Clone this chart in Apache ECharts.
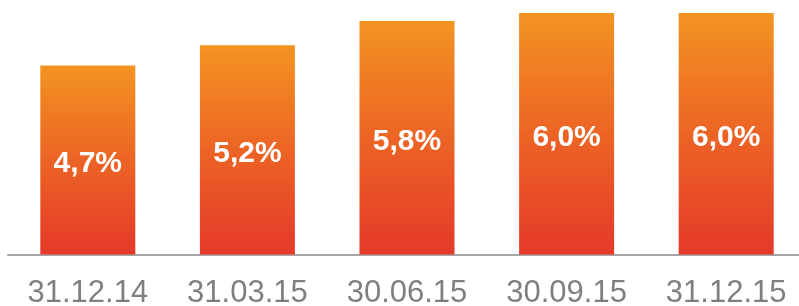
<!DOCTYPE html>
<html>
<head>
<meta charset="utf-8">
<script src="https://cdn.jsdelivr.net/npm/echarts@6/dist/echarts.min.js"></script>
<style>
  html, body { margin: 0; padding: 0; background: #ffffff; }
  #chart { width: 799px; height: 306px; }
</style>
</head>
<body>
<div id="chart"></div>
<script>
const categories = ["31.12.14", "31.03.15", "30.06.15", "30.09.15", "31.12.15"];
const values = [4.7, 5.2, 5.8, 6.0, 6.0];

const chart = echarts.init(document.getElementById("chart"));
chart.setOption({
  animation: false,
  grid: { left: 8, top: 1, width: 798, height: 253.5, outerBoundsMode: "none", containLabel: false },
  xAxis: {
    type: "category",
    data: categories,
    axisLine: { lineStyle: { color: "#a6a6a6", width: 2 } },
    axisTick: { show: false },
    axisLabel: {
      color: "#7f7f7f",
      fontSize: 31,
      fontFamily: "Liberation Sans, Arial, sans-serif",
      margin: 23,
      interval: 0
    }
  },
  yAxis: {
    type: "value",
    min: 0,
    max: 6.3,
    show: false,
    splitLine: { show: false }
  },
  series: [{
    type: "bar",
    data: values,
    barWidth: 95,
    itemStyle: {
      color: new echarts.graphic.LinearGradient(0, 0, 0, 1, [
        { offset: 0, color: "#f39321" },
        { offset: 0.5, color: "#ec6425" },
        { offset: 1, color: "#e5392a" }
      ])
    },
    label: {
      show: true,
      position: "inside",
      offset: [0, 4],
      color: "#ffffff",
      fontWeight: "bold",
      fontSize: 30,
      fontFamily: "Liberation Sans, Arial, sans-serif",
      formatter: p => p.value.toFixed(1).replace(".", ",") + "%"
    }
  }]
});
</script>
</body>
</html>
